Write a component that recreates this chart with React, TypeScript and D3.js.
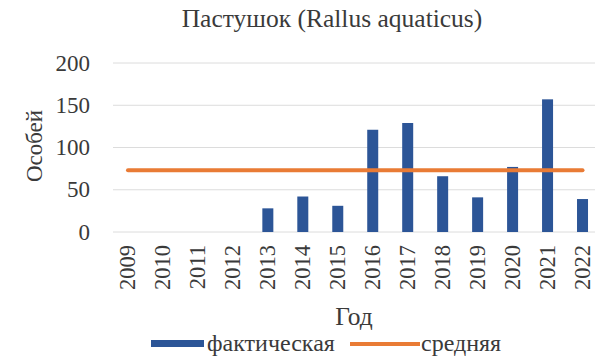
import React from "react";
import * as d3 from "d3";

const years = ["2009","2010","2011","2012","2013","2014","2015","2016","2017","2018","2019","2020","2021","2022"];
const actual = [0, 0, 0, 0, 28, 42, 31, 121, 129, 66, 41, 77, 157, 39];
const meanValues = [73, 73, 73, 73, 73, 73, 73, 73, 73, 73, 73, 73, 73, 73];
const yTicks = [0, 50, 100, 150, 200];
const title = "Пастушок (Rallus aquaticus)";
const yTitle = "Особей";
const xTitle = "Год";
const legendLabels = ["фактическая", "средняя"];

const W = 595, H = 358;
const FF = '"Liberation Serif"';
const barColor = "#2C5597";
const lineColor = "#E97B35";
const textColor = "#3a3a3a";

export default function App() {
  const x = d3.scalePoint<string>().domain(years).range([110.5, 600]).padding(0.5);
  const y = d3.scaleLinear().domain([0, 200]).range([232, 63]);
  const barW = 11;
  const line = d3.line<number>().x((_, i) => x(years[i]) as number).y(d => y(d));
  const fs = { fontFamily: FF };

  return (
    <svg width={W} height={H} style={{ position: "absolute", left: 0, top: 0 }}>
      <rect x={0} y={0} width={W} height={H} fill="#fff" />
      <text x={332} y={27} textAnchor="middle" fontSize={25.5} fill={textColor} style={fs}>{title}</text>
      {yTicks.map(t => (
        <g key={t}>
          <line x1={113} x2={595} y1={y(t)} y2={y(t)} stroke="#dcdcdc" strokeWidth={1} />
          <text x={90} y={y(t) + 7.5} textAnchor="end" fontSize={23} fill={textColor} style={fs}>{t}</text>
        </g>
      ))}
      <text transform={`translate(42,146) rotate(-90)`} textAnchor="middle" fontSize={23} fill={textColor} style={fs}>{yTitle}</text>
      {actual.map((v, i) => (
        v > 0 ? <rect key={years[i]} x={(x(years[i]) as number) - barW / 2} y={y(v)} width={barW} height={y(0) - y(v)} fill={barColor} /> : null
      ))}
      <path d={line(meanValues) || ""} fill="none" stroke={lineColor} strokeWidth={4} strokeLinecap="round" />
      {years.map(yr => (
        <text key={yr} transform={`translate(${(x(yr) as number) + 7.5},245) rotate(-90)`} textAnchor="end" fontSize={22.5} fill={textColor} style={fs}>{yr}</text>
      ))}
      <text x={354} y={325} textAnchor="middle" fontSize={25.5} fill={textColor} style={fs}>{xTitle}</text>
      <rect x={151} y={340} width={53} height={7} fill={barColor} />
      <text x={207} y={351} fontSize={24} fill={textColor} style={fs}>{legendLabels[0]}</text>
      <line x1={350} x2={420} y1={344} y2={344} stroke={lineColor} strokeWidth={4} />
      <text x={421} y={351} fontSize={24} fill={textColor} style={fs}>{legendLabels[1]}</text>
    </svg>
  );
}
